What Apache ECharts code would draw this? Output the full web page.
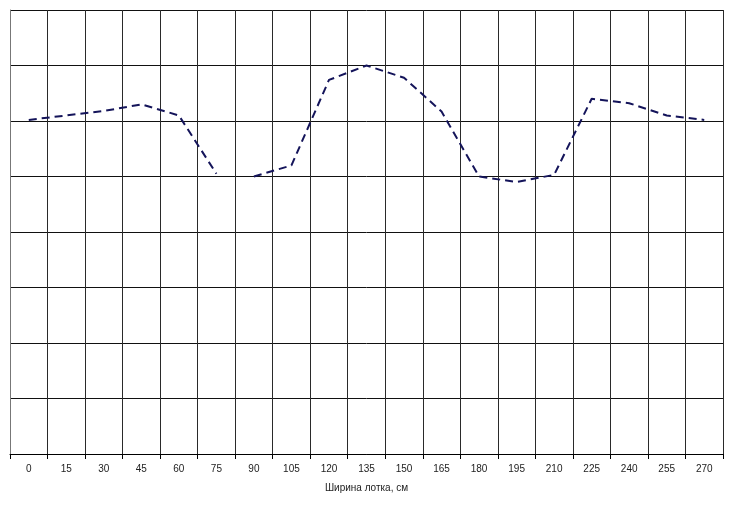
<!DOCTYPE html>
<html>
<head>
<meta charset="utf-8">
<script src="https://cdn.jsdelivr.net/npm/echarts@6/dist/echarts.min.js"></script>
<style>
html,body{margin:0;padding:0;background:#fff;}
#chart{width:735px;height:509px;}
</style>
</head>
<body>
<div id="chart"></div>
<script>
// Data
var categories = ['0','15','30','45','60','75','90','105','120','135','150','165','180','195','210','225','240','255','270'];
var values = [6.02, 6.1, 6.18, 6.3, 6.1, 5.05, 5.0, 5.2, 6.74, 7.0, 6.78, 6.17, 5.0, 4.9, 5.03, 6.4, 6.32, 6.1, 6.02];
// the drawn line is broken between these two categories
var breakAfter = '75';
var xAxisTitle = 'Ширина лотка, см';

var breakIdx = categories.indexOf(breakAfter);
var firstPart = values.map(function(v, i){ return i <= breakIdx ? v : null; });
var secondPart = values.map(function(v, i){ return i > breakIdx ? v : null; });

var lineStyle = {color:'#14145a', width:2, type:[8,5]};
var chart = echarts.init(document.getElementById('chart'), null, {renderer:'canvas'});
chart.setOption({
  animation:false,
  backgroundColor:'#fff',
  grid:{left:10, right:12, top:10, bottom:55, containLabel:false},
  xAxis:{
    type:'category',
    data:categories,
    boundaryGap:true,
    axisLine:{show:true, lineStyle:{color:'#000', width:1}},
    axisTick:{show:true, interval:0, length:5, lineStyle:{color:'#000'}},
    axisLabel:{interval:0, fontFamily:'Liberation Sans, Arial', fontSize:10, color:'#222', margin:10},
    splitLine:{show:true, interval:0, lineStyle:{color:'#2a2a2a', width:1}},
    name:xAxisTitle,
    nameLocation:'middle',
    nameGap:29,
    nameTextStyle:{fontFamily:'Liberation Sans, Arial', fontSize:10, color:'#222'}
  },
  yAxis:{
    type:'value',
    min:0, max:8, interval:1,
    axisLine:{show:true, lineStyle:{color:'#777', width:1}},
    axisTick:{show:false},
    axisLabel:{show:false},
    splitLine:{show:true, lineStyle:{color:'#111', width:1}}
  },
  series:[
    {type:'line', data:firstPart, showSymbol:false, symbol:'none', connectNulls:false, lineStyle:lineStyle},
    {type:'line', data:secondPart, showSymbol:false, symbol:'none', connectNulls:false, lineStyle:lineStyle}
  ]
});
</script>
</body>
</html>
